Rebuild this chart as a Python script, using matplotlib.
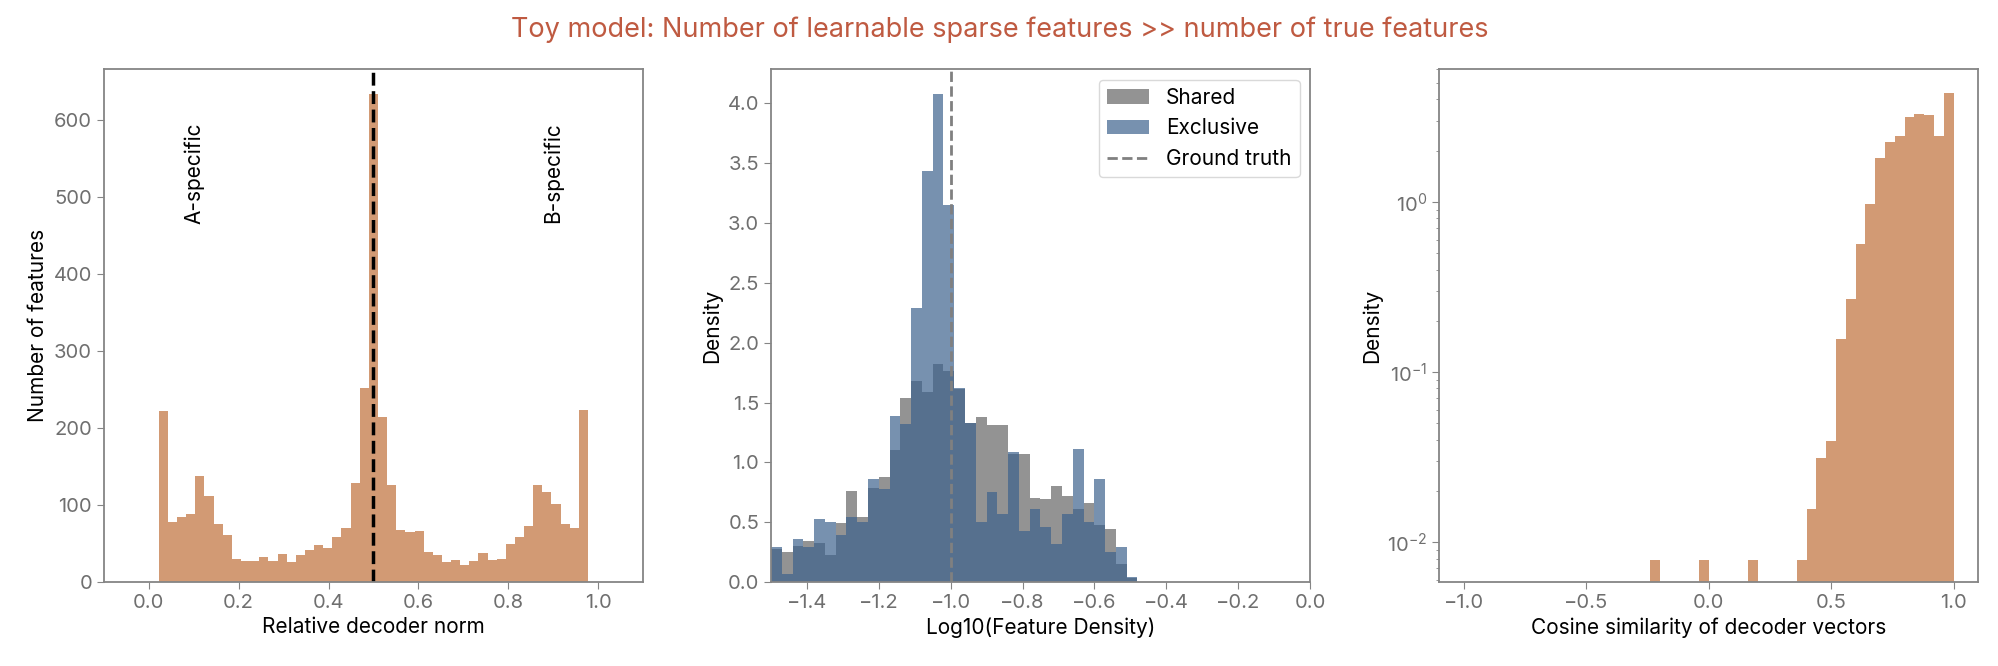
import numpy as np
import matplotlib.pyplot as plt
from matplotlib.ticker import MultipleLocator

plt.rcParams['font.family'] = ['Inter', 'DejaVu Sans']
plt.rcParams['axes.edgecolor'] = '#858585'
plt.rcParams['axes.linewidth'] = 1.3
plt.rcParams['xtick.color'] = '#858585'
plt.rcParams['ytick.color'] = '#858585'
plt.rcParams['xtick.labelcolor'] = '#6f6f6f'
plt.rcParams['ytick.labelcolor'] = '#6f6f6f'
plt.rcParams['xtick.labelsize'] = 14.5
plt.rcParams['ytick.labelsize'] = 14.5
plt.rcParams['axes.labelsize'] = 15
plt.rcParams['xtick.major.size'] = 5
plt.rcParams['ytick.major.size'] = 5

# left panel: relative decoder norm, 47 bins
norm_range = (0.0222, 0.9778)
norm_counts = [222, 78, 84, 89, 138, 112, 75, 61, 30, 27, 28, 33, 28, 36, 26, 35,
               41, 48, 44, 59, 70, 128, 252, 634, 214, 126, 68, 65, 66, 39, 35, 26,
               29, 22, 27, 38, 29, 30, 50, 59, 73, 126, 117, 101, 75, 70, 224]

# middle panel: log10 feature density, bins of 0.03 starting at -1.5
dens_start = -1.5
dens_width = 0.03
shared_density = [0.28, 0.25, 0.30, 0.34, 0.33, 0.23, 0.49, 0.76, 0.54, 0.79, 0.88, 1.10,
                  1.54, 1.68, 1.59, 1.82, 1.76, 1.61, 1.33, 1.38, 1.31, 1.31, 1.07, 1.07,
                  0.70, 0.69, 0.80, 0.72, 0.61, 0.66, 0.48, 0.44, 0.15, 0.03]
exclusive_density = [0.29, 0.07, 0.36, 0.29, 0.53, 0.50, 0.39, 0.54, 0.50, 0.86, 0.78, 1.39,
                     1.32, 2.29, 3.43, 4.08, 3.15, 1.62, 1.33, 0.50, 0.75, 0.57, 1.09, 0.43,
                     0.61, 0.46, 0.32, 0.57, 1.11, 0.50, 0.86, 0.25, 0.29, 0.04]
ground_truth = -1.0

# right panel: cosine similarity, 50 bins on [-1, 1]
cos_counts = [0] * 19 + [1, 0, 0, 0, 0, 1, 0, 0, 0, 0, 1, 0, 0, 0, 0,
                         1, 2, 4, 5, 20, 34, 72, 123, 230, 287, 312, 401, 419, 411, 309, 554]

orange = '#d29a74'
grey = '#666666'
blue = '#3d628d'

fig = plt.figure(figsize=(19.99, 6.66), dpi=100)
ax1 = fig.add_axes([0.052, 0.126, 0.2696, 0.770])
ax2 = fig.add_axes([0.3857, 0.126, 0.2696, 0.770])
ax3 = fig.add_axes([0.7199, 0.126, 0.2696, 0.770])

# left
edges = np.linspace(norm_range[0], norm_range[1], len(norm_counts) + 1)
centers = (edges[:-1] + edges[1:]) / 2
ax1.hist(centers, bins=edges, weights=norm_counts, color=orange, linewidth=0)
ax1.axvline(0.5, color='black', ls='--', lw=2.5)
ax1.set_xlim(-0.1, 1.1)
ax1.text(0.1, 531, 'A-specific', rotation=90, ha='center', va='center', fontsize=15)
ax1.text(0.9, 531, 'B-specific', rotation=90, ha='center', va='center', fontsize=15)
ax1.set_xlabel('Relative decoder norm')
ax1.set_ylabel('Number of features')

# middle
edges = dens_start + dens_width * np.arange(len(shared_density) + 1)
centers = (edges[:-1] + edges[1:]) / 2
ax2.hist(centers, bins=edges, weights=shared_density, color=grey, alpha=0.7, linewidth=0, label='Shared')
ax2.hist(centers, bins=edges, weights=exclusive_density, color=blue, alpha=0.7, linewidth=0, label='Exclusive')
ax2.axvline(ground_truth, color='#808080', ls='--', lw=2, label='Ground truth')
ax2.set_xlim(-1.5, 0.0)
ax2.set_xlabel('Log10(Feature Density)')
ax2.set_ylabel('Density')
leg = ax2.legend(loc='upper right', fontsize=15, frameon=True, fancybox=True)
leg.get_frame().set_edgecolor('#d0d0d0')

# right
edges = np.linspace(-1, 1, len(cos_counts) + 1)
centers = (edges[:-1] + edges[1:]) / 2
ax3.hist(centers, bins=edges, weights=cos_counts, density=True, color=orange, linewidth=0)
ax3.set_yscale('log')
ax3.set_ylim(10 ** -2.235, 10 ** 0.779)
ax3.set_xlim(-1.1, 1.1)
ax3.xaxis.set_major_locator(MultipleLocator(0.5))
ax3.set_xlabel('Cosine similarity of decoder vectors')
ax3.set_ylabel('Density')

fig.suptitle('Toy model: Number of learnable sparse features >> number of true features',
             color='#bf5a41', fontsize=19.5, y=0.975)

fig.savefig('out.png', dpi=100)
